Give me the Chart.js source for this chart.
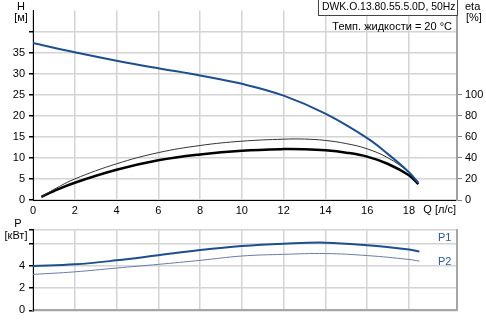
<!DOCTYPE html>
<html lang="ru">
<head>
    <meta charset="UTF-8">
    <title>DWK pump curve</title>
    <script src="https://cdn.jsdelivr.net/npm/chart.js"></script>
    <style>
        body { margin: 0; background: #fff; }
        #wrap { position: relative; width: 486px; height: 321px; }
        canvas { position: absolute; left: 0; }
    </style>
</head>
<body>
<div id="wrap">
    <canvas id="topChart" style="top:0"></canvas>
    <canvas id="bottomChart" style="top:219px"></canvas>
</div>

<script>
    // данные
    const qHead = [0, 2, 4, 6, 8, 10, 12, 14, 16, 17, 18, 18.45];
    const headVals = [37.3, 35.1, 33.1, 31.3, 29.6, 27.6, 24.8, 20.5, 14.7, 10.9, 6.6, 4.1];

    const qEta = [0.4, 1, 2, 4, 6, 8, 10, 12, 13, 14, 15, 16, 17, 18, 18.45];
    const etaThin = [3, 10, 20, 34.4, 45, 51.8, 55.9, 57.8, 57.9, 56.6, 53.6, 48.6, 40.0, 26.5, 17];
    const etaThick = [3, 8.5, 16.4, 28.7, 37.7, 43.3, 46.9, 48.4, 48.2, 47.2, 45.0, 41.2, 34.2, 23.5, 15];

    const qPower = [0, 2, 4, 6, 8, 10, 12, 14, 16, 18, 18.5];
    const p1Vals = [3.98, 4.13, 4.49, 4.95, 5.41, 5.77, 5.98, 6.08, 5.85, 5.46, 5.28];
    const p2Vals = [3.23, 3.46, 3.8, 4.13, 4.49, 4.88, 5.03, 5.1, 4.92, 4.57, 4.42];

    const pump = 'DWK.O.13.80.55.5.0D, 50Hz';
    const tempText = 'Темп. жидкости = 20 °C';

    Chart.defaults.font.family = 'Liberation Sans, Arial, sans-serif';
    Chart.defaults.font.size = 11;
    Chart.defaults.color = '#000';

    const W = 486;
    const gridCol = '#d4d4d4';
    const blue = '#1d4f8c';

    function pts(xs, ys) {
        return xs.map((x, i) => ({x: x, y: ys[i]}));
    }

    function fixW(w) { return function (s) { s.width = w; }; }
    function fixH(h) { return function (s) { s.height = h; }; }

    const c1 = document.getElementById('topChart');
    c1.width = W; c1.height = 221;
    const c2 = document.getElementById('bottomChart');
    c2.width = W; c2.height = 102;

    // подписи поверх верхнего графика
    const topText = {
        id: 'topText',
        afterDraw(chart) {
            const ctx = chart.ctx;
            ctx.save();
            ctx.font = '11px Liberation Sans, Arial, sans-serif';
            ctx.fillStyle = '#000';
            ctx.textBaseline = 'middle';
            ctx.textAlign = 'center';
            ctx.fillText('H', 21, 7);
            ctx.fillText('[м]', 21, 18);
            ctx.textAlign = 'left';
            ctx.fillText('eta', 465, 7);
            ctx.fillText('[%]', 466, 18);
            ctx.textAlign = 'right';
            ctx.fillText('Q [л/с]', 456, 210);
            ctx.fillText(tempText, 452, 27);
            // рамка с названием насоса
            ctx.fillStyle = '#fff';
            ctx.fillRect(318.5, -0.5, 139, 16);
            ctx.strokeStyle = '#444';
            ctx.lineWidth = 1;
            ctx.strokeRect(318.5, -0.5, 139, 16);
            ctx.fillStyle = '#000';
            ctx.font = '10.4px Liberation Sans, Arial, sans-serif';
            ctx.textAlign = 'left';
            ctx.fillText(pump, 322, 7.5);
            ctx.restore();
        }
    };

    new Chart(c1, {
        type: 'line',
        data: {
            datasets: [
                {data: pts(qHead, headVals), yAxisID: 'y', borderColor: blue, borderWidth: 2},
                {data: pts(qEta, etaThin), yAxisID: 'y2', borderColor: '#333', borderWidth: 1},
                {data: pts(qEta, etaThick), yAxisID: 'y2', borderColor: '#000', borderWidth: 2.5}
            ]
        },
        options: {
            responsive: false,
            animation: false,
            layout: {padding: 0},
            plugins: {legend: {display: false}, tooltip: {enabled: false}},
            elements: {point: {radius: 0}, line: {tension: 0.4}},
            scales: {
                x: {
                    type: 'linear', min: 0, max: 20.3,
                    afterFit: fixH(21),
                    border: {color: '#000', width: 1},
                    grid: {color: gridCol, lineWidth: 1.5, drawTicks: false},
                    ticks: {
                        stepSize: 2, padding: 4, maxRotation: 0,
                        callback: v => v <= 18 ? v : null
                    }
                },
                y: {
                    position: 'left', min: 0, max: 45,
                    afterFit: fixW(33),
                    border: {color: '#000', width: 1},
                    grid: {color: gridCol, lineWidth: 1.5, tickLength: 4, tickColor: '#000'},
                    ticks: {
                        stepSize: 5, padding: 4,
                        callback: v => v <= 35 ? v : (v === 40 ? '' : null)
                    }
                },
                y2: {
                    position: 'right', min: 0, max: 180,
                    afterFit: fixW(29),
                    border: {color: '#a0a0a0', width: 2},
                    grid: {drawOnChartArea: false, tickLength: 5, tickColor: '#808080'},
                    ticks: {
                        stepSize: 20, padding: 3,
                        callback: v => v <= 100 ? v : null
                    }
                }
            }
        },
        plugins: [topText]
    });

    // подписи нижнего графика
    const bottomText = {
        id: 'bottomText',
        afterDraw(chart) {
            const ctx = chart.ctx;
            ctx.save();
            ctx.font = '11px Liberation Sans, Arial, sans-serif';
            ctx.textBaseline = 'middle';
            ctx.fillStyle = '#000';
            ctx.textAlign = 'center';
            ctx.fillText('P', 18, 5);
            ctx.fillText('[кВт]', 16, 17);
            ctx.fillStyle = '#2a5a98';
            ctx.textAlign = 'left';
            ctx.fillText('P1', 438, 19);
            ctx.fillText('P2', 438, 43);
            ctx.restore();
        }
    };

    new Chart(c2, {
        type: 'line',
        data: {
            datasets: [
                {data: pts(qPower, p1Vals), borderColor: blue, borderWidth: 2},
                {data: pts(qPower, p2Vals), borderColor: '#6b7ca3', borderWidth: 1}
            ]
        },
        options: {
            responsive: false,
            animation: false,
            layout: {padding: 0},
            plugins: {legend: {display: false}, tooltip: {enabled: false}},
            elements: {point: {radius: 0}, line: {tension: 0.4}},
            scales: {
                x: {
                    type: 'linear', min: 0, max: 20.3,
                    afterFit: fixH(8),
                    border: {color: '#a6a6a6', width: 2},
                    grid: {color: gridCol, lineWidth: 1.5, drawTicks: false},
                    ticks: {display: false, stepSize: 2}
                },
                y: {
                    position: 'left', min: 0, max: 7.25,
                    afterFit: fixW(33),
                    border: {color: '#000', width: 1},
                    grid: {color: gridCol, lineWidth: 1.5, tickLength: 4, tickColor: '#000'},
                    ticks: {
                        stepSize: 2, padding: 4,
                        callback: v => v <= 4 ? v : ''
                    }
                },
                yr: {
                    position: 'right', min: 0, max: 7.25,
                    afterFit: fixW(29),
                    border: {color: '#a6a6a6', width: 2},
                    grid: {drawOnChartArea: false, drawTicks: false},
                    ticks: {display: false}
                }
            }
        },
        plugins: [bottomText]
    });
</script>
</body>
</html>
